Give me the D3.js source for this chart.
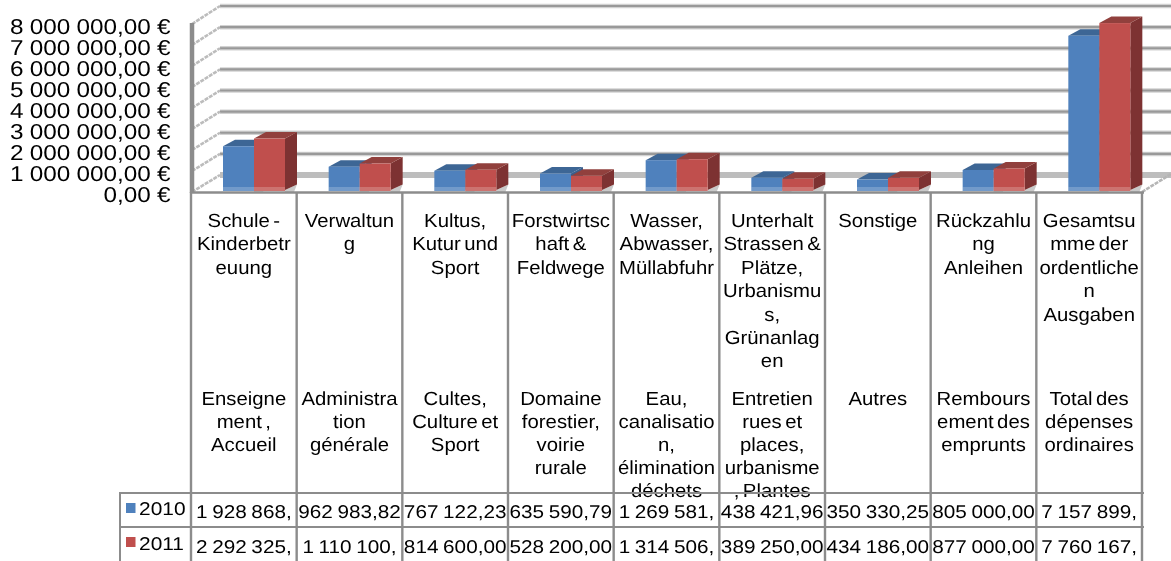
<!DOCTYPE html>
<html><head><meta charset="utf-8">
<script src="https://cdn.jsdelivr.net/npm/d3@7"></script>
<style>html,body{margin:0;padding:0;background:#fff;overflow:hidden}
svg{display:block;font-family:"Liberation Sans",Arial,sans-serif;text-rendering:geometricPrecision}</style></head>
<body><svg id="c" width="1171" height="561"></svg>
<script>
const categories=[
 ["Schule -","Kinderbetr","euung"],
 ["Verwaltun","g"],
 ["Kultus,","Kutur und","Sport"],
 ["Forstwirtsc","haft &","Feldwege"],
 ["Wasser,","Abwasser,","Müllabfuhr"],
 ["Unterhalt","Strassen &","Plätze,","Urbanismu","s,","Grünanlag","en"],
 ["Sonstige"],
 ["Rückzahlu","ng","Anleihen"],
 ["Gesamtsu","mme der","ordentliche","n","Ausgaben"]];
const categoriesFr=[
 ["Enseigne","ment ,","Accueil"],
 ["Administra","tion","générale"],
 ["Cultes,","Culture et","Sport"],
 ["Domaine","forestier,","voirie","rurale"],
 ["Eau,","canalisatio","n,","élimination","déchets"],
 ["Entretien","rues et","places,","urbanisme",", Plantes"],
 ["Autres"],
 ["Rembours","ement des","emprunts"],
 ["Total des","dépenses","ordinaires"]];
const seriesNames=["2010","2011"];
const values2010=[1928868,962983.82,767122.23,635590.79,1269581,438421.96,350330.25,805000,7157899];
const values2011=[2292325,1110100,814600,528200,1314506,389250,434186,877000,7760167];
const labels2010=["1 928 868,","962 983,82","767 122,23","635 590,79","1 269 581,","438 421,96","350 330,25","805 000,00","7 157 899,"];
const labels2011=["2 292 325,","1 110 100,","814 600,00","528 200,00","1 314 506,","389 250,00","434 186,00","877 000,00","7 760 167,"];
const tickValues=[0,1e6,2e6,3e6,4e6,5e6,6e6,7e6,8e6];
const tickLabels=["0,00 €","1 000 000,00 €","2 000 000,00 €","3 000 000,00 €","4 000 000,00 €","5 000 000,00 €","6 000 000,00 €","7 000 000,00 €","8 000 000,00 €"];
const colors=["#4f81bd","#c0504d"], sideColors=["#3a5f8c","#7d3330"], topColors=["#3d6695","#91403d"];

const svg=d3.select("#c");
const defs=svg.append("defs");
defs.append("filter").attr("id","soft").attr("x","-5%").attr("y","-5%").attr("width","110%").attr("height","110%")
  .append("feGaussianBlur").attr("stdDeviation",0.5);
const g=svg.append("g").attr("filter","url(#soft)");
const x=d3.scaleBand().domain(d3.range(9)).range([191,1142]);
const yFront=d3.scaleLinear().domain([0,8e6]).range([192,24]);
const yBack=d3.scaleLinear().domain([0,8e6]).range([175,6]);
const yBar=d3.scaleLinear().domain([0,8e6]).range([187,18]);
const barBase=191;
const grey="#8c8c8c";
const depthX=29;

// back wall gridlines
tickValues.forEach((t,i)=>{
  g.append("line").attr("x1",191+depthX).attr("x2",1171).attr("y1",yBack(t)).attr("y2",yBack(t))
    .attr("stroke",i==0?"#bdbdbd":"#d2d2d2").attr("stroke-width",i==0?6:4.5);
  if(i>0) g.append("line").attr("x1",191+depthX).attr("x2",1171).attr("y1",yBack(t)).attr("y2",yBack(t))
    .attr("stroke","#999").attr("stroke-width",2.2);
  g.append("line").attr("x1",192).attr("x2",191+depthX).attr("y1",yFront(t)).attr("y2",yBack(t))
    .attr("stroke","#bcbcbc").attr("stroke-width",2.6).attr("stroke-dasharray","4 1");
});
g.append("line").attr("x1",1142).attr("x2",1171).attr("y1",192).attr("y2",174)
  .attr("stroke","#b5b5b5").attr("stroke-width",2.6).attr("stroke-dasharray","4 1");

// bars
const bw=31, dx=12, dy=6.5;
[values2010,values2011].forEach((vals,s)=>{
  const xs=i=>x(i)+32+s*bw;
  const bars=g.append("g").selectAll("g").data(vals).join("g");
  bars.append("path").attr("d",(d,i)=>{const r=xs(i)+bw;return `M${r},${barBase-1}L${r+dx},${barBase-dy}L${r+dx-3},${barBase+1}L${r},${barBase+1}Z`}).attr("fill","#c9c9c9");
  bars.append("path").attr("d",(d,i)=>{const r=xs(i)+bw,t=yBar(d);return `M${r},${t}L${r+dx},${t-dy}L${r+dx},${barBase-dy}L${r},${barBase-1}Z`}).attr("fill",sideColors[s]);
  bars.append("path").attr("d",(d,i)=>{const l=xs(i),r=l+bw,t=yBar(d);return `M${l},${t}L${l+dx},${t-dy}L${r+dx},${t-dy}L${r},${t}Z`}).attr("fill",topColors[s]);
  bars.append("rect").attr("x",(d,i)=>xs(i)).attr("y",d=>yBar(d)).attr("width",bw).attr("height",d=>barBase-yBar(d)).attr("fill",colors[s]);
  bars.append("rect").attr("x",(d,i)=>xs(i)).attr("y",barBase-4).attr("width",bw).attr("height",4).attr("fill","#fff").attr("opacity",.2);
});

// axis
g.append("line").attr("x1",192).attr("x2",192).attr("y1",23).attr("y2",193).attr("stroke",grey).attr("stroke-width",4.5);
g.append("line").attr("x1",190).attr("x2",1144).attr("y1",192.5).attr("y2",192.5).attr("stroke",grey).attr("stroke-width",2.5);

// tick labels
const yLab=d3.scaleLinear().domain([0,8e6]).range([201.5,33.5]);
g.append("g").selectAll("text").data(tickValues).join("text")
  .attr("transform",d=>`translate(170.5,${yLab(d)}) scale(1.13,1)`).attr("text-anchor","end")
  .attr("font-size",21.5).attr("fill","#000").attr("word-spacing",-0.5)
  .text((d,i)=>tickLabels[i]);

// category labels
function block(arr,y0,h){
  const b=g.append("g").selectAll("text").data(arr).join("text")
    .attr("text-anchor","middle").attr("font-size",19).attr("fill","#000").attr("word-spacing",-2)
    .attr("transform",(d,i)=>`translate(${x(i)+x.bandwidth()/2},${y0}) scale(1.07,1)`);
  b.selectAll("tspan").data(d=>d).join("tspan").attr("x",0).attr("y",(d,i)=>i*h).text(d=>d);
}
block(categories,227,23.4);
block(categoriesFr,405,23);

// table
[493,527].forEach(y=>g.append("line").attr("x1",119).attr("x2",1144).attr("y1",y).attr("y2",y).attr("stroke",grey).attr("stroke-width",2.2));
g.append("line").attr("x1",120).attr("x2",120).attr("y1",493).attr("y2",561).attr("stroke",grey).attr("stroke-width",2);
d3.range(10).forEach(i=>{
  const px=i==9?1142:x(i);
  g.append("line").attr("x1",px).attr("x2",px).attr("y1",192).attr("y2",561).attr("stroke",grey).attr("stroke-width",2.4);
});
// legend keys
seriesNames.forEach((n,s)=>{
  g.append("rect").attr("x",126).attr("y",[503,537][s]).attr("width",9.5).attr("height",10).attr("fill",colors[s]);
  g.append("text").attr("transform",`translate(139,${[515,550][s]}) scale(1.13,1)`).attr("font-size",18.5).text(n);
});
[labels2010,labels2011].forEach((vals,s)=>{
  g.append("g").selectAll("text").data(vals).join("text")
   .attr("transform",(d,i)=>`translate(${x(i)+x.bandwidth()/2},${[518,553][s]}) scale(1.12,1)`)
   .attr("text-anchor","middle").attr("font-size",18.5).attr("word-spacing",-1).attr("fill","#000").text(d=>d);
});
</script></body></html>
